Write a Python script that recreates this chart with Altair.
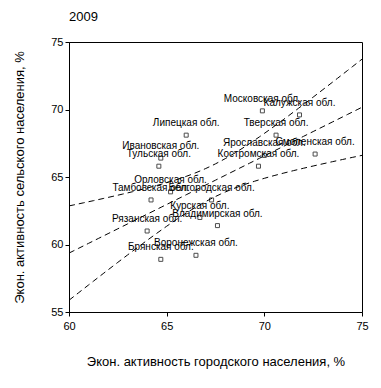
import altair as alt
import numpy as np
import pandas as pd

regions = ["Московская обл.", "Калужская обл.", "Липецкая обл.", "Тверская обл.",
           "Ярославская обл.", "Смоленская обл.", "Ивановская обл.", "Тульская обл.",
           "Костромская обл.", "Орловская обл.", "Тамбовская обл.", "Белгородская обл.",
           "Курская обл.", "Владимирская обл.", "Рязанская обл.", "Воронежская обл.",
           "Брянская обл."]
urban = [69.9, 71.8, 66.0, 70.6, 70.0, 72.6, 64.7, 64.6, 69.7, 65.2, 64.2, 67.3,
         66.7, 67.6, 64.0, 66.5, 64.7]
rural = [69.9, 69.6, 68.1, 68.1, 66.6, 66.7, 66.4, 65.8, 65.8, 63.9, 63.3, 63.3,
         62.0, 61.4, 61.0, 59.2, 58.9]
x_ticks = [60, 65, 70, 75]
y_ticks = [55, 60, 65, 70, 75]

pts = pd.DataFrame({"region": regions, "urban": urban, "rural": rural})

# OLS fit with 90% confidence band for the mean
xa = np.array(urban); ya = np.array(rural)
n = len(xa)
xm = xa.mean(); ym = ya.mean()
sxx = ((xa - xm) ** 2).sum()
b = ((xa - xm) * (ya - ym)).sum() / sxx
a = ym - b * xm
s = np.sqrt(((ya - (a + b * xa)) ** 2).sum() / (n - 2))
t = 1.753
gx = np.linspace(60, 75, 61)
fit = a + b * gx
hw = t * s * np.sqrt(1 / n + (gx - xm) ** 2 / sxx)
lines = pd.concat([
    pd.DataFrame({"urban": gx, "rural": fit, "k": "fit"}),
    pd.DataFrame({"urban": gx, "rural": fit + hw, "k": "up"}),
    pd.DataFrame({"urban": gx, "rural": fit - hw, "k": "lo"}),
])

xs = alt.Scale(domain=[60, 75], nice=False, zero=False)
ys = alt.Scale(domain=[55, 75], nice=False, zero=False)

xenc = alt.X("urban:Q", scale=xs,
             axis=alt.Axis(values=x_ticks, title="Экон. активность городского населения, %",
                           titlePadding=24, labelFlush=False, labelPadding=4))
yenc = alt.Y("rural:Q", scale=ys,
             axis=alt.Axis(values=y_ticks, title="Экон. активность сельского населения, %",
                           titlePadding=24, labelFlush=False))

line_layer = alt.Chart(lines).mark_line(color="black", strokeWidth=1, strokeDash=[6, 4],
                                        clip=True).encode(
    x=xenc, y=yenc, detail="k:N")

pt_layer = alt.Chart(pts).mark_square(size=16, filled=False, color="black",
                                      strokeWidth=1).encode(x=xenc, y=yenc)

lbl_layer = alt.Chart(pts).mark_text(fontSize=10, font="Liberation Sans", color="black",
                                     dy=-12, align="center").encode(
    x=xenc, y=yenc, text="region:N")

chart = alt.layer(line_layer, pt_layer, lbl_layer).properties(
    width=293, height=270,
    title=alt.TitleParams("2009", anchor="start", frame="group", fontSize=13,
                          font="Liberation Sans", fontWeight="normal", color="black",
                          offset=12),
    autosize=alt.AutoSizeParams(type="none"),
    padding={"left": 61, "top": 34, "right": 10, "bottom": 60},
).configure_view(stroke="black", strokeWidth=1).configure_axis(
    grid=False, domainColor="black", tickColor="black", tickSize=4,
    labelFont="Liberation Sans", labelFontSize=11, labelColor="black",
    titleFont="Liberation Sans", titleFontSize=13, titleFontWeight="normal",
    titleColor="black", labelPadding=2
)

chart.save("out.html", embed_options={"renderer": "svg", "actions": False})
